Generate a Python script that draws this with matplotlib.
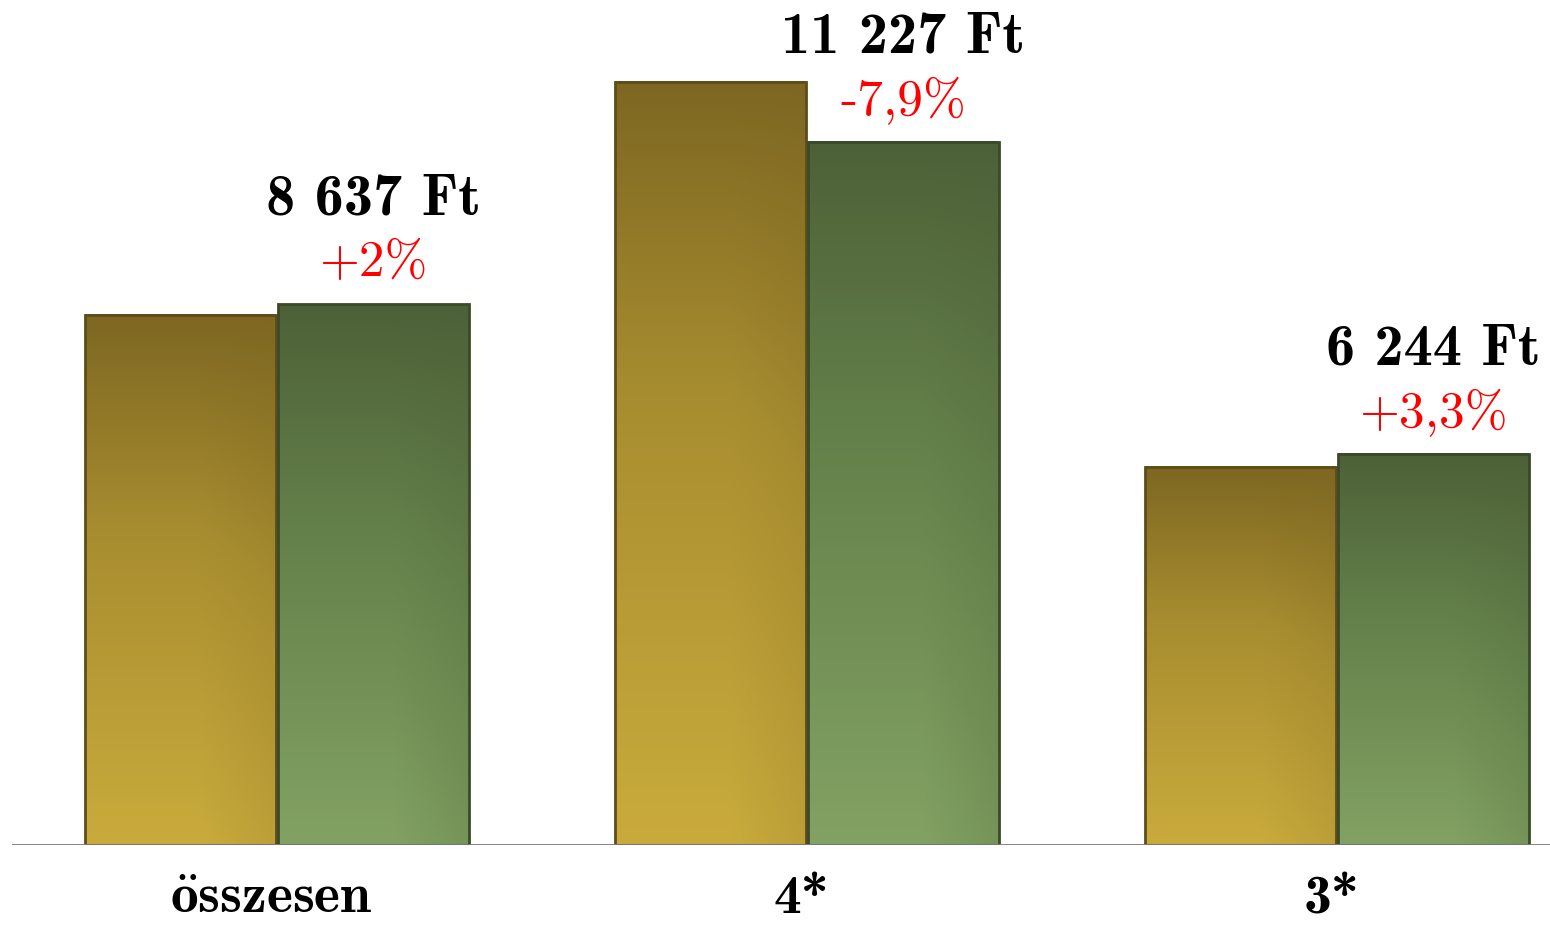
import numpy as np
import matplotlib.pyplot as plt
from matplotlib.colors import LinearSegmentedColormap

plt.rcParams["mathtext.fontset"] = "cm"

categories = ["összesen", "4*", "3*"]
prev_values = [8468, 12190, 6044]
curr_values = [8637, 11227, 6244]
value_labels = ["8 637 Ft", "11 227 Ft", "6 244 Ft"]
change_labels = ["+2%", "-7,9%", "+3,3%"]

gold = LinearSegmentedColormap.from_list("gold", ["#c9ab3c", "#a88d30", "#6b571c"])
green = LinearSegmentedColormap.from_list("green", ["#82a263", "#64804a", "#435430"])

fig = plt.figure(figsize=(15.5, 9.28), dpi=100)
ax = fig.add_axes([12 / 1550, 82 / 928, 1538 / 1550, 846 / 928])
ax.set_xlim(-0.5, 2.402)
ax.set_ylim(0, 13510)

width = 0.36
off = 0.182
x = np.arange(len(categories))


def grad_bars(xs, heights, cmap, edge):
    bars = ax.bar(xs, heights, width, color="none", edgecolor=edge, linewidth=2, zorder=3)
    yy = np.linspace(0, 1, 200)[:, None]
    xx = np.linspace(0, 1, 60)[None, :]
    shade = yy * 0.85 + np.clip(xx - 0.6, 0, 1) * 0.5 * (1 - yy)
    for b in bars:
        x0, y0 = b.get_x(), b.get_y()
        ax.imshow(np.clip(shade, 0, 1), cmap=cmap, vmin=0, vmax=1, origin="lower",
                  extent=[x0, x0 + b.get_width(), y0, y0 + b.get_height()],
                  aspect="auto", zorder=2)
    return bars


grad_bars(x - off, prev_values, gold, "#5e4d18")
cur = grad_bars(x + off, curr_values, green, "#3b4a28")

for b, vl, cl in zip(cur, value_labels, change_labels):
    cx = b.get_x() + b.get_width() / 2
    top = b.get_height()
    ax.annotate(vl, (cx, top), xytext=(0, 105), textcoords="offset pixels",
                ha="center", va="center", fontsize=42, family=["cmb10", "DejaVu Serif"],
                color="black")
    ax.annotate(cl, (cx, top), xytext=(0, 42), textcoords="offset pixels",
                ha="center", va="center", fontsize=37, family=["cmr10", "DejaVu Serif"],
                color="red")

# cmb10 has no proper ö, so that label goes through mathtext bold
tick_text = []
for c in categories:
    if "ö" in c:
        c = r"$\mathbf{" + c.replace("ö", r"\ddot{o}") + "}$"
    tick_text.append(c)

ax.axhline(0, color="#7a7a7a", linewidth=2, zorder=4)
ax.set_xticks(x - 0.01)
ax.set_xticklabels(tick_text, fontsize=40, family=["cmb10", "DejaVu Serif"])
ax.tick_params(axis="x", length=0, pad=21)
ax.set_yticks([])
for s in ax.spines.values():
    s.set_visible(False)

fig.savefig("out.png", dpi=100)
